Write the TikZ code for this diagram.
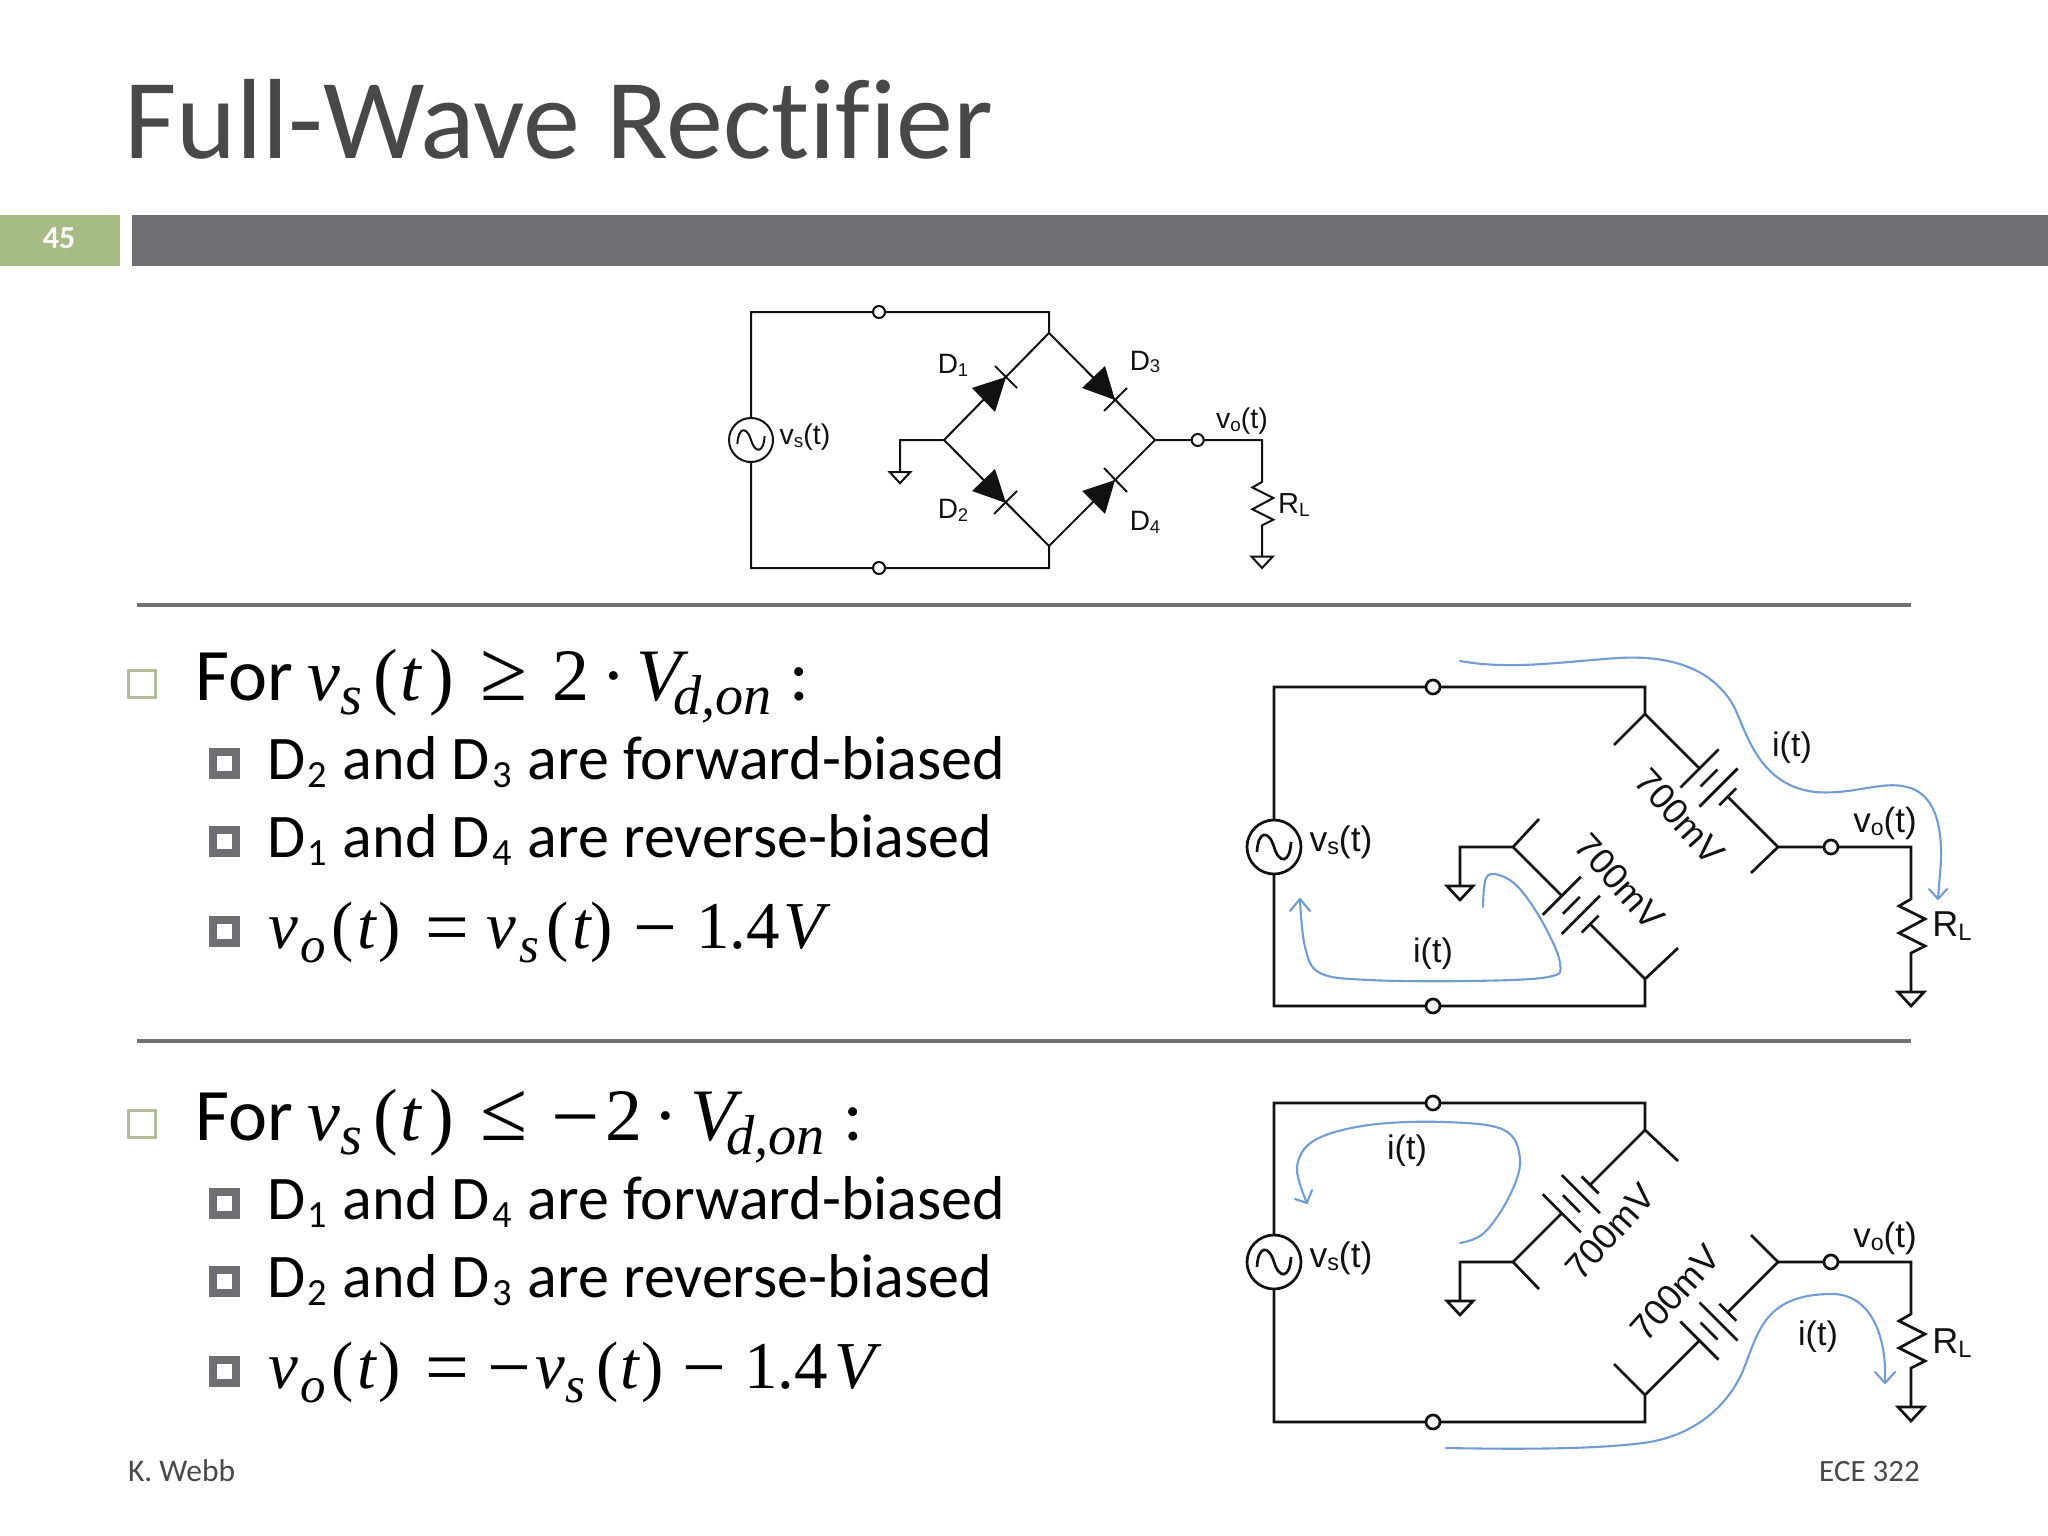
\documentclass[tikz,border=0pt]{standalone}
\usepackage{fontspec}
\usepackage{graphicx}
\setmainfont{Carlito}[Ligatures=NoCommon]
\newfontfamily\arialf{Liberation Sans}
\newfontfamily\camf{Liberation Serif}
\usetikzlibrary{arrows.meta,calc}
\definecolor{barGrey}{HTML}{6E6E73}
\definecolor{barGreen}{HTML}{A7BB85}
\definecolor{titleGrey}{HTML}{484848}
\definecolor{ruleGrey}{HTML}{707070}
\definecolor{hollowGreen}{HTML}{B4BD9A}
\definecolor{currentBlue}{HTML}{729CD2}
\definecolor{wireInk}{HTML}{111111}
\newcommand\fs[1]{\fontsize{#1}{#1}\selectfont}
\newcommand\mi[1]{{\camf\itshape #1}}
\newcommand\mr[1]{{\camf #1}}
\newcommand\bigop[1]{\scalebox{1.16}{\mr{#1}}}
\newcommand\lowop[1]{\raisebox{-.08em}{\scalebox{1.16}{\mr{#1}}}}
\newcommand\lowsub[2][.18em]{\raisebox{-#1}{\scalebox{.66}{#2}}}
\newcommand\dsub[1]{\hspace{.04em}\raisebox{-.14em}{\scalebox{.62}{#1}}\hspace{.03em}}
\newcommand\msub[1]{\raisebox{-14pt}{\scalebox{.76}{\mi{#1}}}}
\newcommand\cel[2]{\makebox[#1pt][l]{#2}}
\newcommand\vsym[1]{v\lowsub[.1em]{#1}(t)}
\tikzset{
  x=1pt,y=-1pt,
  body/.style={anchor=base west,inner sep=0pt,outer sep=0pt,text=black},
  wire/.style={draw=wireInk,line join=miter},
  opencirc/.style={circle,draw=wireInk,fill=white,inner sep=0pt,outer sep=0pt},
  srccirc/.style={circle,draw=wireInk,fill=white,inner sep=0pt,outer sep=0pt},
  clabel/.style={anchor=center,inner sep=0pt,outer sep=0pt,text=wireInk,font=\arialf},
  flow/.style={draw=currentBlue,line width=2.1pt,line cap=round},
  flowhead/.style={draw=currentBlue,line width=2.1pt,line cap=round,line join=round},
  bighollow/.style={draw=hollowGreen,line width=3.2pt},
  subbullet/.style={draw=barGrey,line width=8pt},
}
\newcommand\gndtri[2]{\draw[wire] (#1-13,#2) -- (#1+13,#2) -- (#1,#2+14) -- cycle;}
\newcommand\sinepath{\draw[wire] (-17,5) .. controls (-16,-17) and (-5,-17) .. (0,0) .. controls (5,17) and (16,17) .. (17,-5);}
\newcommand\loadpart[1]{%
  \node[opencirc,minimum size=\opensize] (#1out) at (53,0) {};
  \coordinate (#1top) at (133,0);
  \coordinate (#1rs) at (133,52);
  \coordinate (#1re) at (133,106);
  \coordinate (#1gnd) at (133,145);
  \draw[wire] (0,0) -- (#1out) -- (#1top) -- (#1rs) -- (121,59) -- (147,72) -- (121,86) -- (147,99) -- (#1re) -- (#1gnd);
  \gndtri{133}{145}
}
\newcommand\batt[4]{%
  \begin{scope}[shift={(#1)},rotate=#3]
    \draw[wire] (#1) -- (#4,0);
    \draw[wire] (#4,-27) -- (#4,27);
    \draw[wire] (#4+13.5,-12) -- (#4+13.5,12);
    \draw[wire] (#4+27,-27) -- (#4+27,27);
    \draw[wire] (#4+40,-12) -- (#4+40,12);
    \draw[wire] (#4+40,0) -- (#2);
  \end{scope}}
\newcommand\diode[5]{%
  \fill[wireInk] #1 -- #2 -- #3 -- cycle;
  \draw[wire] #4 -- #5;}
\newcommand\hollowbullet[1]{\draw[bighollow] (128.5,#1+1.5) rectangle (155.5,#1+28.5);}
\newcommand\subbul[1]{\draw[subbullet] (213,#1+4) rectangle (236,#1+27);}
\begin{document}
\begin{tikzpicture}
\useasboundingbox (0,0) rectangle (2048,1536);
\fill[white] (0,0) rectangle (2048,1536);
% header
\node[body,text=titleGrey,font=\fs{114}] (title) at (124,159) {Full-Wave Rectifier};
\fill[barGrey] (132,215) rectangle (2048,266);
\fill[barGreen] (0,215) rectangle (120,266);
\node[inner sep=0pt,text=white,font=\fs{32}\bfseries] (pageno) at (59,238) {45};
% rules
\coordinate (ruleAl) at (137,605);\coordinate (ruleAr) at (1911,605);
\coordinate (ruleBl) at (137,1041);\coordinate (ruleBr) at (1911,1041);
\draw[ruleGrey,line width=4pt] (ruleAl) -- (ruleAr);
\draw[ruleGrey,line width=4pt] (ruleBl) -- (ruleBr);
% text block one
\hollowbullet{669}
\node[body,font=\fs{74}] (ta) at (195,700) {\cel{112}{For}\cel{33}{\mi{v}}\cel{33}{\msub{s}}\cel{27}{\mr{(}}\cel{29}{\mi{t}}\cel{51}{\mr{)}}\cel{72}{\bigop{≥}}\cel{50}{\mr{2}}\cel{34}{\mr{·}}\cel{37}{\mi{V}}\cel{116}{\msub{d,on}}:};
\subbul{748}
\node[body,font=\fs{62}] (tb) at (267,779) {D\dsub{2} and D\dsub{3} are forward-biased};
\subbul{826}
\node[body,font=\fs{62}] (tc) at (267,857) {D\dsub{1} and D\dsub{4} are reverse-biased};
\subbul{916}
\node[body,font=\fs{67}] (td) at (268,948) {\cel{32}{\mi{v}}\cel{31}{\msub{o}}\cel{26}{\mr{(}}\cel{21}{\mi{t}}\cel{47}{\mr{)}}\cel{61}{\lowop{=}}\cel{33}{\mi{v}}\cel{27}{\msub{s}}\cel{26}{\mr{(}}\cel{18}{\mi{t}}\cel{43}{\mr{)}}\cel{63}{\lowop{−}}\cel{87}{\mr{1.4}}\mi{V}};
% text block two
\hollowbullet{1109}
\node[body,font=\fs{74}] (te) at (195,1140) {\cel{112}{For}\cel{33}{\mi{v}}\cel{33}{\msub{s}}\cel{27}{\mr{(}}\cel{29}{\mi{t}}\cel{51}{\mr{)}}\cel{71}{\bigop{≤}}\cel{54}{\lowop{−}}\cel{49}{\mr{2}}\cel{36}{\mr{·}}\cel{36}{\mi{V}}\cel{117}{\msub{d,on}}:};
\subbul{1188}
\node[body,font=\fs{62}] (tf) at (267,1219) {D\dsub{1} and D\dsub{4} are forward-biased};
\subbul{1266}
\node[body,font=\fs{62}] (tg) at (267,1297) {D\dsub{2} and D\dsub{3} are reverse-biased};
\subbul{1356}
\node[body,font=\fs{67}] (th) at (268,1388) {\cel{32}{\mi{v}}\cel{31}{\msub{o}}\cel{26}{\mr{(}}\cel{21}{\mi{t}}\cel{47}{\mr{)}}\cel{62}{\lowop{=}}\cel{48}{\lowop{−}}\cel{30}{\mi{v}}\cel{31}{\msub{s}}\cel{24}{\mr{(}}\cel{21}{\mi{t}}\cel{41}{\mr{)}}\cel{62}{\lowop{−}}\cel{90}{\mr{1.4}}\mi{V}};
% footer
\node[body,text=titleGrey,font=\fs{31.5}] (fa) at (128,1481) {K. Webb};
\node[anchor=base east,inner sep=0pt,text=titleGrey,font=\fs{31}] (fb) at (1920,1481) {ECE 322};
%
% ---------- small circuit with diodes ----------
\begin{scope}[line width=2pt]
\node[srccirc,minimum size=44pt] (Asrc) at (751,440) {};
\begin{scope}[shift={(Asrc.center)},scale=.8]\sinepath\end{scope}
\node[opencirc,minimum size=12pt] (Atopo) at (879,312) {};
\node[opencirc,minimum size=12pt] (Abot) at (879,568) {};
\coordinate (Atl) at (751,312);\coordinate (Atr) at (1049,312);
\coordinate (Abl) at (751,568);\coordinate (Abr) at (1049,568);
\coordinate (An) at (1049,333);\coordinate (As) at (1049,546);
\coordinate (Aw) at (944,440);\coordinate (Ae) at (1155,440);
\coordinate (Agw) at (900,440);\coordinate (Agb) at (900,472);
\draw[wire] (Asrc) -- (Atl) -- (Atopo) -- (Atr) -- (An) -- (Ae) -- (As) -- (Abr) -- (Abot) -- (Abl) -- (Asrc);
\draw[wire] (Agb) -- (Agw) -- (Aw) -- (An);
\draw[wire] (Aw) -- (As);
\begin{scope}[shift={(900,472)},scale=.8]\gndtri{0}{0}\end{scope}
\diode{(1006,377)}{(972,388)}{(995,412)}{(995,366)}{(1017,388)}
\diode{(1115,400)}{(1105,366)}{(1082,388)}{(1127,388)}{(1104,411)}
\diode{(1006,503)}{(995,469)}{(972,491)}{(1017,491)}{(994,514)}
\diode{(1115,480)}{(1082,491)}{(1105,514)}{(1104,468)}{(1127,492)}
\begin{scope}[shift={(Ae)},scale=.805]
\def\opensize{12pt}\loadpart{A}
\end{scope}
\node[clabel,font=\arialf\fs{28}] (AD1) at (953,365) {D\lowsub[.1em]{1}};
\node[clabel,font=\arialf\fs{28}] (AD3) at (1145,362) {D\lowsub[.1em]{3}};
\node[clabel,font=\arialf\fs{28}] (AD2) at (953,510) {D\lowsub[.1em]{2}};
\node[clabel,font=\arialf\fs{28}] (AD4) at (1145,522) {D\lowsub[.1em]{4}};
\node[clabel,font=\arialf\fs{28.5}] (Avs) at (805,437) {\vsym{s}};
\node[clabel,font=\arialf\fs{28.5}] (Avo) at (1242,421) {\vsym{o}};
\node[clabel,font=\arialf\fs{29}] (Arl) at (1294,505) {R\lowsub[.1em]{L}};
\end{scope}
%
% ---------- middle circuit ----------
\begin{scope}[line width=2.7pt]
\node[srccirc,minimum size=54pt] (Bsrc) at (1274,847) {};
\begin{scope}[shift={(Bsrc.center)}]\sinepath\end{scope}
\node[opencirc,minimum size=14pt] (Btopo) at (1433,687) {};
\node[opencirc,minimum size=14pt] (Bboto) at (1433,1006) {};
\coordinate (Btl) at (1274,687);\coordinate (Btr) at (1645,687);
\coordinate (Bbl) at (1274,1006);\coordinate (Bbr) at (1645,1006);
\coordinate (Bn) at (1645,714);\coordinate (Bs) at (1645,979);
\coordinate (Bw) at (1513,847);\coordinate (Be) at (1778,847);
\coordinate (Bns) at (1614,745);\coordinate (Bes) at (1751,873);
\coordinate (Bws) at (1539,819);\coordinate (Bss) at (1678,948);
\coordinate (Bgw) at (1460,847);\coordinate (Bgb) at (1460,886);
\draw[wire] (Bsrc) -- (Btl) -- (Btopo) -- (Btr) -- (Bn) -- (Bns);
\draw[wire] (Bsrc) -- (Bbl) -- (Bboto) -- (Bbr) -- (Bs) -- (Bss);
\draw[wire] (Be) -- (Bes);
\draw[wire] (Bgb) -- (Bgw) -- (Bw) -- (Bws);
\gndtri{1460}{886}
\batt{Bn}{Be}{-45}{77}
\batt{Bw}{Bs}{-45}{69}
\begin{scope}[shift={(Be)}]
\def\opensize{14pt}\loadpart{B}
\end{scope}
\node[clabel,font=\arialf\fs{36},rotate=-48] (Bv1) at (1680,817) {700mV};
\node[clabel,font=\arialf\fs{36},rotate=-48] (Bv2) at (1620,882) {700mV};
\node[clabel,font=\arialf\fs{35.5}] (Bvs) at (1341,842) {\vsym{s}};
\node[clabel,font=\arialf\fs{35}] (Bvo) at (1885,823) {\vsym{o}};
\node[clabel,font=\arialf\fs{36}] (Brl) at (1952,926) {R\lowsub[.1em]{L}};
\node[clabel,font=\arialf\fs{34}] (Bi1) at (1792,748) {i(t)};
\node[clabel,font=\arialf\fs{34}] (Bi2) at (1433,954) {i(t)};
\end{scope}
\draw[flow] (1460,661) .. controls (1510,670) and (1560,662) .. (1618,658) .. controls (1670,655) and (1710,668) .. (1732,703) .. controls (1745,725) and (1755,785) .. (1815,792) .. controls (1850,795) and (1880,782) .. (1902,786) .. controls (1930,790) and (1942,815) .. (1941,860) .. controls (1940,875) and (1939,885) .. (1938,899);
\draw[flowhead] (1929,889) -- (1938,899) -- (1947,889);
\draw[flow] plot[smooth,tension=.6] coordinates {(1483,907) (1486,878) (1499,875) (1519,888) (1543,923) (1560,963) (1548,977) (1469,981) (1369,980) (1320,973) (1305,947) (1300,900)};
\draw[flowhead] (1290,911) -- (1300,899) -- (1310,911);
%
% ---------- bottom circuit ----------
\begin{scope}[line width=2.7pt]
\node[srccirc,minimum size=54pt] (Csrc) at (1274,1262) {};
\begin{scope}[shift={(Csrc.center)}]\sinepath\end{scope}
\node[opencirc,minimum size=14pt] (Ctopo) at (1433,1103) {};
\node[opencirc,minimum size=14pt] (Cboto) at (1433,1422) {};
\coordinate (Ctl) at (1274,1103);\coordinate (Ctr) at (1645,1103);
\coordinate (Cbl) at (1274,1422);\coordinate (Cbr) at (1645,1422);
\coordinate (Cn) at (1645,1130);\coordinate (Cs) at (1645,1395);
\coordinate (Cw) at (1513,1262);\coordinate (Ce) at (1778,1262);
\coordinate (Cns) at (1678,1161);\coordinate (Ces) at (1751,1235);
\coordinate (Cws) at (1539,1289);\coordinate (Css) at (1614,1364);
\coordinate (Cgw) at (1460,1262);\coordinate (Cgb) at (1460,1301);
\draw[wire] (Csrc) -- (Ctl) -- (Ctopo) -- (Ctr) -- (Cn) -- (Cns);
\draw[wire] (Csrc) -- (Cbl) -- (Cboto) -- (Cbr) -- (Cs) -- (Css);
\draw[wire] (Ce) -- (Ces);
\draw[wire] (Cgb) -- (Cgw) -- (Cw) -- (Cws);
\gndtri{1460}{1301}
\batt{Cw}{Cn}{45}{69}
\batt{Cs}{Ce}{45}{77}
\begin{scope}[shift={(Ce)}]
\def\opensize{14pt}\loadpart{C}
\end{scope}
\node[clabel,font=\arialf\fs{36},rotate=48] (Cv1) at (1610,1232) {700mV};
\node[clabel,font=\arialf\fs{36},rotate=48] (Cv2) at (1675,1293) {700mV};
\node[clabel,font=\arialf\fs{35.5}] (Cvs) at (1341,1258) {\vsym{s}};
\node[clabel,font=\arialf\fs{35}] (Cvo) at (1885,1238) {\vsym{o}};
\node[clabel,font=\arialf\fs{36}] (Crl) at (1952,1343) {R\lowsub[.1em]{L}};
\node[clabel,font=\arialf\fs{34}] (Ci1) at (1407,1151) {i(t)};
\node[clabel,font=\arialf\fs{34}] (Ci2) at (1818,1337) {i(t)};
\end{scope}
\draw[flow] plot[smooth,tension=.6] coordinates {(1460,1243) (1484,1233) (1509,1197) (1520,1160) (1504,1130) (1444,1122) (1369,1125) (1315,1140) (1297,1167) (1307,1203)};
\draw[flowhead] (1295,1199) -- (1307,1203) -- (1312,1190);
\draw[flow] (1446,1448) .. controls (1500,1449) and (1590,1450) .. (1643,1443) .. controls (1690,1437) and (1725,1410) .. (1742,1373) .. controls (1758,1335) and (1762,1294) .. (1832,1294) .. controls (1870,1294) and (1887,1335) .. (1885,1382);
\draw[flowhead] (1875,1372) -- (1885,1383) -- (1895,1372);
\end{tikzpicture}
\end{document}
